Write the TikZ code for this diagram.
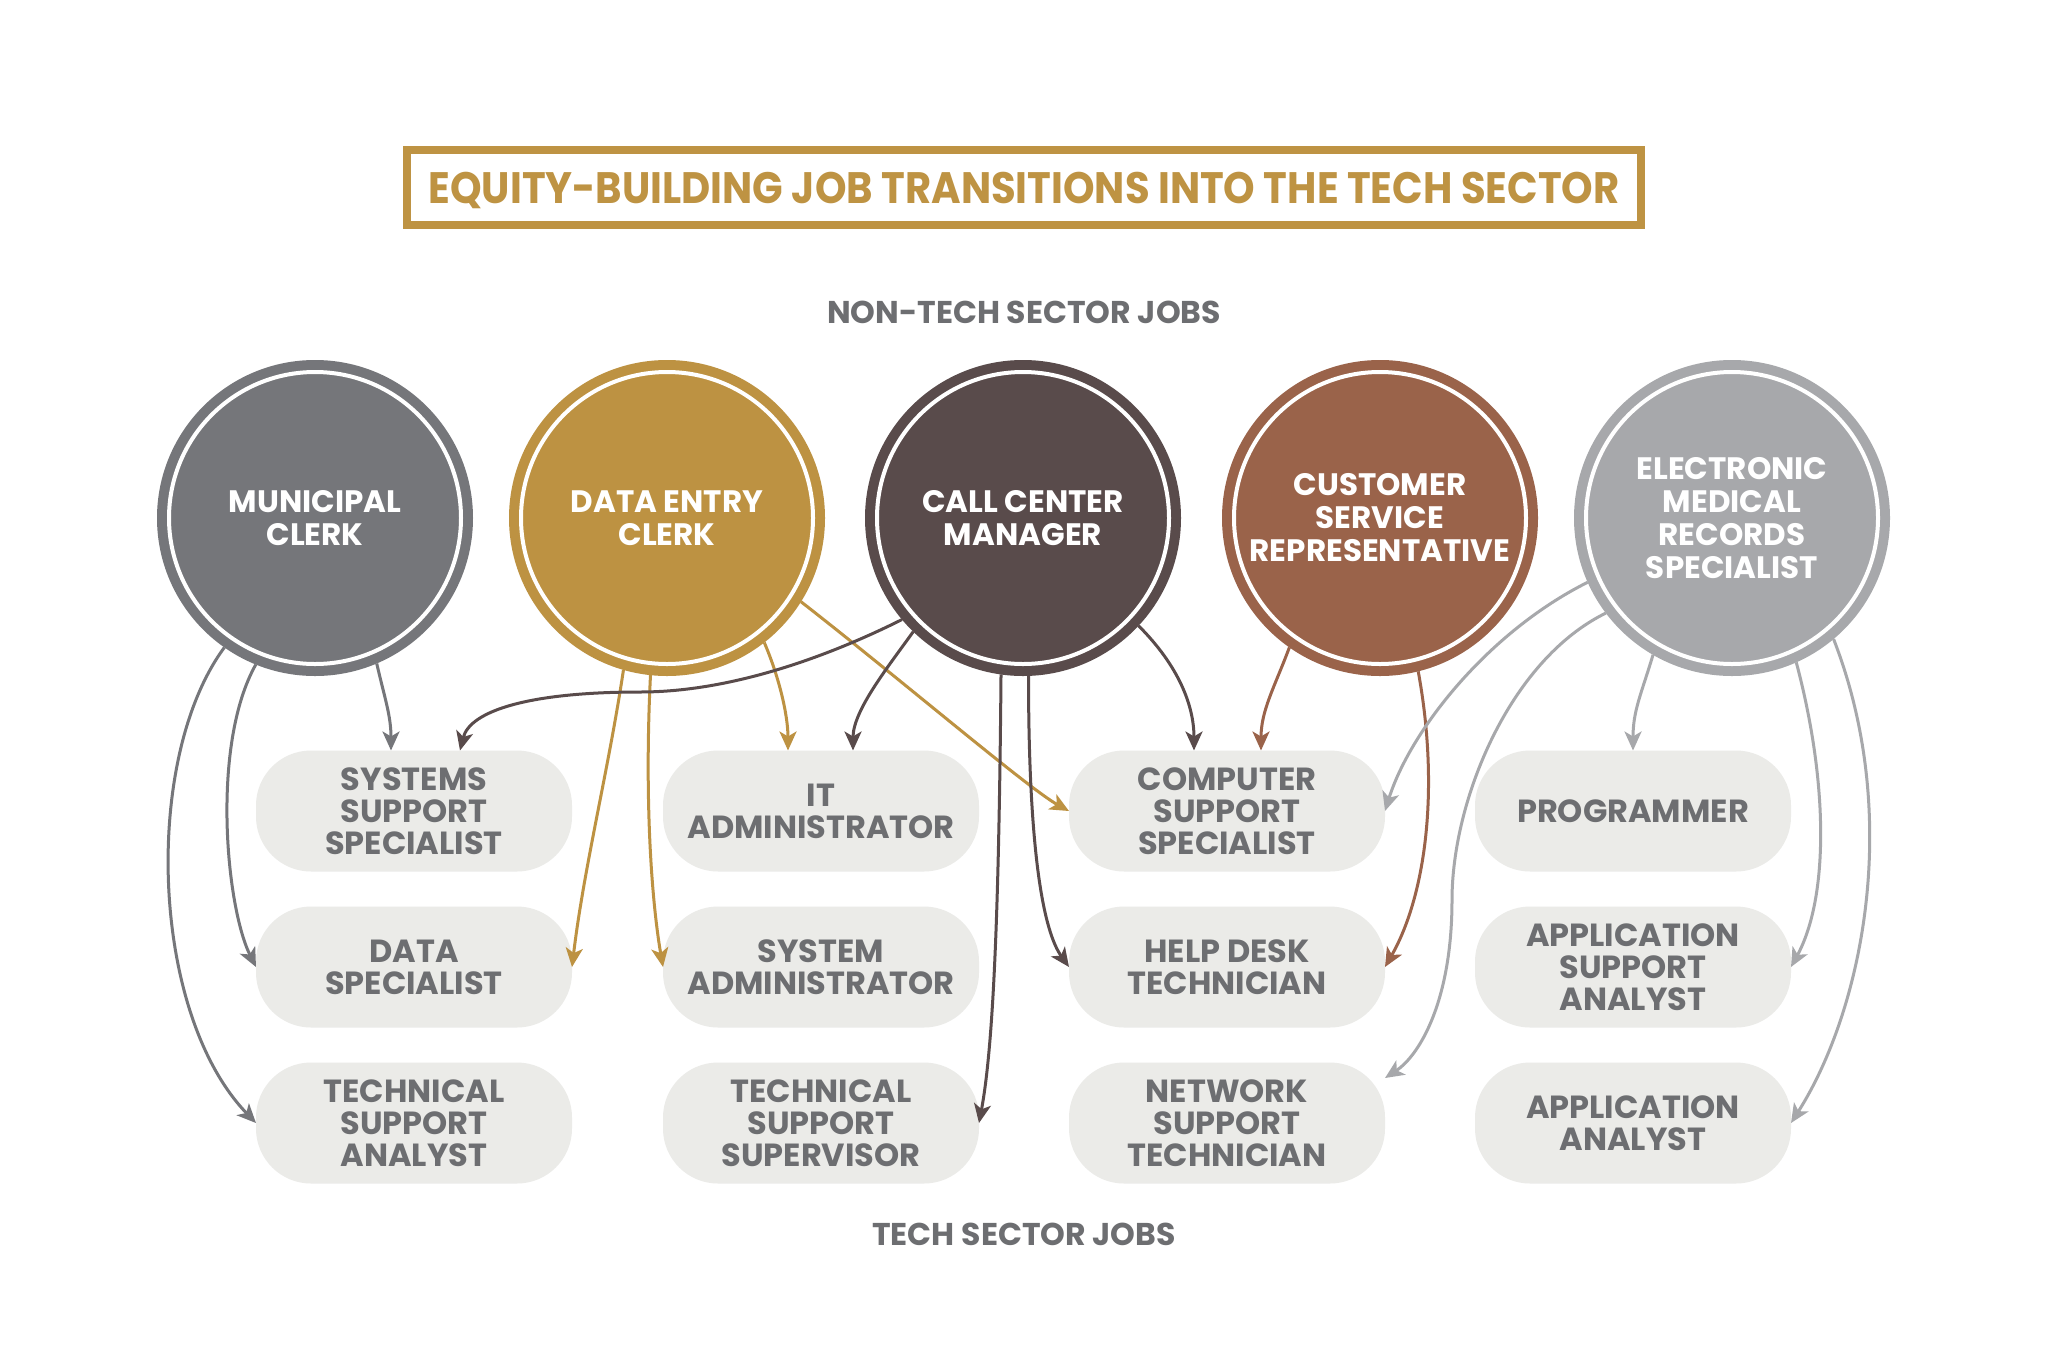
\documentclass[tikz,border=0pt]{standalone}
\usepackage{fontspec}
\usepackage{graphicx}
\setmainfont{Poppins}
\usetikzlibrary{arrows.meta,calc}
\definecolor{cM}{HTML}{75767A}
\definecolor{cD}{HTML}{BD9242}
\definecolor{cC}{HTML}{594B4B}
\definecolor{cR}{HTML}{9A634A}
\definecolor{cE}{HTML}{A7A8AB}
\definecolor{pillfill}{HTML}{EBEBE8}
\definecolor{pilltext}{HTML}{6D6E71}
\definecolor{gold}{HTML}{BE9343}
\begin{document}
\begin{tikzpicture}[x=1pt,y=-1pt,
  arr/.style={line width=3pt,-{Stealth[length=19pt,width=17pt,inset=5pt]}},
  bigc/.style={circle,minimum size=306pt,inner sep=0pt,line width=10pt,text=white,
    font=\bfseries\fontsize{31}{33}\selectfont,align=center},
  pill/.style={rectangle,rounded corners=55pt,fill=pillfill,minimum width=316pt,minimum height=121pt,
    inner sep=0pt,outer sep=0pt,text=pilltext,font=\bfseries\fontsize{32}{32}\selectfont,align=center},
  hdr/.style={text=pilltext,font=\bfseries\fontsize{31.5}{33}\selectfont},
]
\fill[white] (0,0) rectangle (2048,1371);
\useasboundingbox (0,0) rectangle (2048,1371);

% title
\node[draw=gold,line width=8pt,minimum width=1234pt,minimum height=75pt,inner sep=0pt,
  text depth=0pt,text=gold,font=\bfseries\fontsize{44}{48}\selectfont] (T) at (1024,187.5)
  {\scalebox{0.912}[1]{EQUITY-BUILDING JOB TRANSITIONS INTO THE TECH SECTOR}};
\node[hdr,text depth=0pt] (H1) at (1024,312) {NON-TECH SECTOR JOBS};
\node[hdr,text depth=0pt] (H2) at (1024,1234) {TECH SECTOR JOBS};

% non-tech circles
\node[bigc,fill=cM,draw=cM] (M) at (315,518) {MUNICIPAL\\CLERK};
\node[bigc,fill=cD,draw=cD] (D) at (667,518) {DATA ENTRY\\CLERK};
\node[bigc,fill=cC,draw=cC] (C) at (1023,518) {CALL CENTER\\MANAGER};
\node[bigc,fill=cR,draw=cR] (R) at (1380,518) {CUSTOMER\\SERVICE\\REPRESENTATIVE};
\node[bigc,fill=cE,draw=cE] (E) at (1732,518) {ELECTRONIC\\MEDICAL\\RECORDS\\SPECIALIST};
\foreach \n in {M,D,C,R,E}
  \draw[white,line width=4pt] (\n.center) circle[radius=146pt];

% tech pills
\node[pill] (P11) at (414,811) {SYSTEMS\\SUPPORT\\SPECIALIST};
\node[pill] (P21) at (414,967) {DATA\\SPECIALIST};
\node[pill] (P31) at (414,1123) {TECHNICAL\\SUPPORT\\ANALYST};
\node[pill] (P12) at (821,811) {IT\\ADMINISTRATOR};
\node[pill] (P22) at (821,967) {SYSTEM\\ADMINISTRATOR};
\node[pill] (P32) at (821,1123) {TECHNICAL\\SUPPORT\\SUPERVISOR};
\node[pill] (P13) at (1227,811) {COMPUTER\\SUPPORT\\SPECIALIST};
\node[pill] (P23) at (1227,967) {HELP DESK\\TECHNICIAN};
\node[pill] (P33) at (1227,1123) {NETWORK\\SUPPORT\\TECHNICIAN};
\node[pill] (P14) at (1633,811) {PROGRAMMER};
\node[pill] (P24) at (1633,967) {APPLICATION\\SUPPORT\\ANALYST};
\node[pill] (P34) at (1633,1123) {APPLICATION\\ANALYST};

% municipal clerk
\draw[arr,cM] (M.-67) .. controls +(8,35) and +(0,-35) .. ([xshift=-23pt]P11.north);
\draw[arr,cM] (M.-112) .. controls +(-45,80) and +(-30,-60) .. (P21.west);
\draw[arr,cM] (M.-125) .. controls +(-82,111) and +(-106,-110) .. (P31.west);
% data entry clerk
\draw[arr,cD] (D.-106) .. controls +(-15,100) and +(12,-100) .. (P21.east);
\draw[arr,cD] (D.-96) .. controls +(-6,120) and +(-12,-70) .. (P22.west);
\draw[arr,cD] (D.-52) .. controls +(15,35) and +(0,-35) .. ([xshift=-33pt]P12.north);
\draw[arr,cD] (D.-32) .. controls +(100,78) and +(-40,-22) .. (P13.west);
% call center manager
\draw[arr,cC] (C.-140) .. controls +(-60,30) and +(100,0) .. (640,692)
  .. controls +(-110,0) and +(10,-40) .. ([xshift=46pt]P11.north);
\draw[arr,cC] (C.-134) .. controls +(-25,35) and +(0,-40) .. ([xshift=32pt]P12.north);
\draw[arr,cC] (C.-98) .. controls +(-2,225) and +(15,-80) .. (P32.east);
\draw[arr,cC] (C.-88) .. controls +(0,180) and +(-25,-35) .. (P23.west);
\draw[arr,cC] (C.-43) .. controls +(40,40) and +(0,-45) .. ([xshift=-33pt]P13.north);
% customer service representative
\draw[arr,cR] (R.-125) .. controls +(-15,40) and +(0,-40) .. ([xshift=34pt]P13.north);
\draw[arr,cR] (R.-76) .. controls +(22,120) and +(40,-70) .. (P23.east);
% electronic medical records specialist
\draw[arr,cE] (E.-156) .. controls +(-100,50) and +(25,-80) .. (P13.east);
\draw[arr,cE] (E.-143) .. controls +(-96,47) and +(0,-100) .. (1452,900)
  .. controls +(0,100) and +(35,-23) .. ([yshift=45pt]P33.east);
\draw[arr,cE] (E.-120) .. controls +(-12,40) and +(0,-40) .. (P14.north);
\draw[arr,cE] (E.-66) .. controls +(32,120) and +(38,-70) .. (P24.east);
\draw[arr,cE] (E.-50) .. controls +(70,180) and +(70,-110) .. (P34.east);
\end{tikzpicture}
\end{document}
